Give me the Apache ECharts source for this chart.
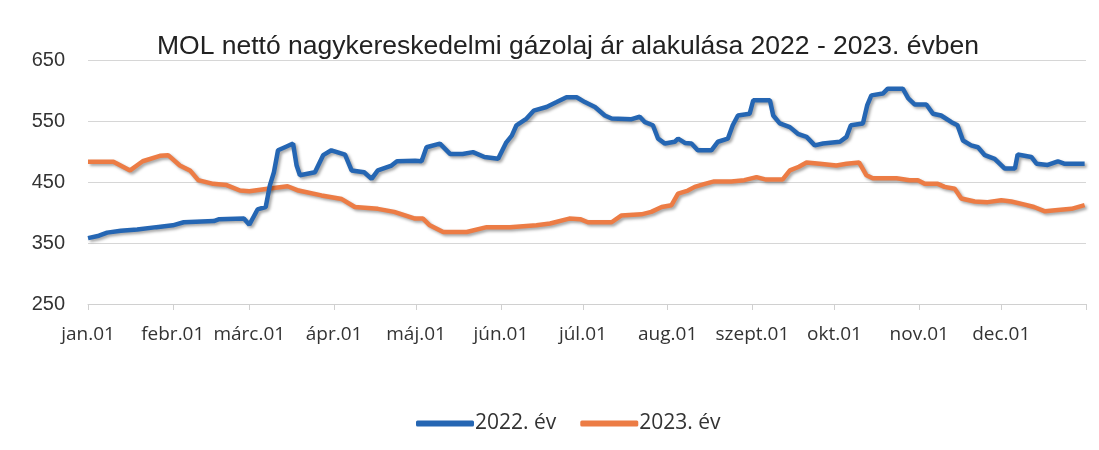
<!DOCTYPE html>
<html lang="hu">
<head>
  <meta charset="UTF-8" />
  <title>MOL nettó nagykereskedelmi gázolaj ár</title>
  <script src="https://cdn.jsdelivr.net/npm/echarts@6/dist/echarts.min.js"></script>
  <style>
    body { margin: 0; background: #fff; }
    #chart { width: 1099px; height: 450px; }
  </style>
</head>
<body>
  <div id="chart"></div>
  <script>
    // hónapok kezdőnapjai (az év napjainak sorszáma) és feliratai
    const monthStarts = [0, 31, 59, 90, 120, 151, 181, 212, 243, 273, 304, 334];
    const monthLabels = ['jan.01', 'febr.01', 'márc.01', 'ápr.01', 'máj.01', 'jún.01',
                         'júl.01', 'aug.01', 'szept.01', 'okt.01', 'nov.01', 'dec.01'];
    const yTicks = [250, 350, 450, 550, 650];

    // 2022. év - leolvasott pontok (nap, Ft/l)
    const days2022 = [0, 4, 7, 12, 18, 25, 31, 35, 46, 48, 57, 59, 62, 65, 66.5, 68, 69.5, 72, 75, 76.3, 77.5,
      83, 86, 89, 94, 96.4, 101, 103.7, 106, 111, 113, 119.6, 122, 123.8, 128.7, 132.4, 137, 140.8, 145, 150,
      153, 155, 156.7, 160.4, 163, 167.7, 171.4, 175, 178.7, 181.7, 185.4, 189, 191.5, 198.8, 201.8, 203.7,
      206.6, 208.5, 211, 214.6, 215.8, 218.3, 220.7, 223, 228, 230.4, 234, 235.8, 237.7, 242, 243.3, 249.4,
      250.6, 253, 256.7, 259.6, 262.8, 265.8, 268.8, 275, 277.4, 279, 283.4, 285, 286.5, 290.7, 292.5, 298,
      300, 302.4, 306.6, 309, 312, 315.8, 318, 320, 323, 325.5, 328, 331.6, 335.3, 339, 340, 345, 346.9, 351,
      354.7, 357, 364.5];
    const values2022 = [358, 362, 367, 370, 372, 376, 379, 384, 386, 389, 390, 380, 405, 409, 444, 466, 502, 507, 513, 477, 461,
      466, 494, 502, 495, 469, 466, 455, 469, 477, 484, 485, 484, 507, 513, 496, 496, 499, 491, 488,
      515, 526, 543, 554, 567, 573, 581, 589, 589, 581, 573, 559, 554, 553, 557, 548,
      543, 521, 513, 516, 521, 514, 513, 502, 502, 516, 521, 543, 559, 562, 584, 584,
      559, 546, 540, 529, 524, 510, 513, 516, 524, 543, 546, 576, 592, 595, 603, 603,
      587, 577, 577, 562, 559, 548, 543, 518, 510, 507, 494, 488, 472, 472, 495, 491, 480, 478,
      484, 480, 480];

    // 2023. év - leolvasott pontok (nap, Ft/l)
    const days2023 = [0, 9.3, 15.4, 20, 26.3, 29.3, 33.6, 37.3, 40.3, 45.8, 50.7, 55.6, 59, 65.7, 73, 77,
      85.4, 92.8, 97.6, 106, 112, 119.6, 122.5, 125, 129.9, 138.5, 145.8, 154.3, 164, 169, 176, 180,
      182.8, 191.5, 195, 202.4, 206, 209.8, 213.4, 215.8, 219.4, 221.9, 225.6, 229, 235.3, 240, 244.5,
      248, 254, 256.7, 260, 262.8, 267.6, 273.7, 277.4, 282, 284.7, 287, 295.7, 300.5, 303.5, 306,
      310.8, 313.3, 317, 319.4, 324.3, 329, 334, 337.7, 342.6, 346, 350, 354.7, 359.7, 364.5];
    const values2023 = [483, 483, 469, 484, 493, 494, 477, 469, 453, 447, 445, 436, 435, 439, 443, 436,
      428, 422, 409, 406, 401, 390, 390, 379, 368, 368, 376, 376, 379, 382, 390, 389,
      384, 384, 395, 397, 401, 409, 412, 431, 436, 442, 447, 451, 451, 453, 458,
      454, 454, 469, 475, 482, 480, 477, 480, 482, 461, 456, 456, 453, 453, 447,
      447, 442, 439, 423, 418, 417, 420, 418, 413, 409, 402, 404, 406, 412];

    const pairs = (xs, ys) => xs.map((d, i) => [d, ys[i]]);

    const chart = echarts.init(document.getElementById('chart'));

    const lineShadow = {
      shadowColor: 'rgba(0,0,0,0.35)',
      shadowBlur: 3,
      shadowOffsetX: 2,
      shadowOffsetY: 2
    };

    chart.setOption({
      animation: false,
      title: {
        text: 'MOL nettó nagykereskedelmi gázolaj ár alakulása 2022 - 2023. évben',
        left: 563,
        textAlign: 'center',
        top: 28,
        textStyle: {
          fontFamily: 'Liberation Sans',
          fontSize: 26.5,
          fontWeight: 'normal',
          color: '#222'
        }
      },
      legend: {
        bottom: 11,
        left: 411,
        itemWidth: 58,
        itemHeight: 6,
        itemGap: 24,
        icon: 'roundRect',
        textStyle: {
          fontFamily: 'Open Sans',
          fontSize: 21,
          color: '#333',
          padding: [0, 0, 0, -4]
        },
        data: ['2022. év', '2023. év']
      },
      grid: { left: 88, right: 13, top: 60, bottom: 146 },
      xAxis: {
        type: 'value',
        min: 0,
        max: 365,
        axisLine: { show: true, lineStyle: { color: '#d0d0d0', width: 1 } },
        axisTick: {
          show: true,
          length: 6,
          customValues: monthStarts.concat([365]),
          lineStyle: { color: '#d0d0d0' }
        },
        axisLabel: {
          customValues: monthStarts,
          formatter: v => monthLabels[monthStarts.indexOf(v)],
          fontFamily: 'Open Sans',
          fontSize: 19,
          color: '#333',
          margin: 21
        },
        splitLine: { show: false }
      },
      yAxis: {
        type: 'value',
        min: yTicks[0],
        max: yTicks[yTicks.length - 1],
        interval: 100,
        axisLine: { show: false },
        axisTick: { show: false },
        axisLabel: {
          fontFamily: 'Liberation Sans',
          fontSize: 20,
          color: '#333',
          margin: 23
        },
        splitLine: { lineStyle: { color: '#d6d6d6', width: 1 } }
      },
      series: [
        {
          name: '2022. év',
          type: 'line',
          data: pairs(days2022, values2022),
          showSymbol: false,
          color: '#2566b3',
          lineStyle: Object.assign({ width: 4.5, color: '#2566b3' }, lineShadow),
          z: 3
        },
        {
          name: '2023. év',
          type: 'line',
          data: pairs(days2023, values2023),
          showSymbol: false,
          color: '#ec7c45',
          lineStyle: Object.assign({ width: 4.5, color: '#ec7c45' }, lineShadow),
          z: 2
        }
      ]
    });
  </script>
</body>
</html>
